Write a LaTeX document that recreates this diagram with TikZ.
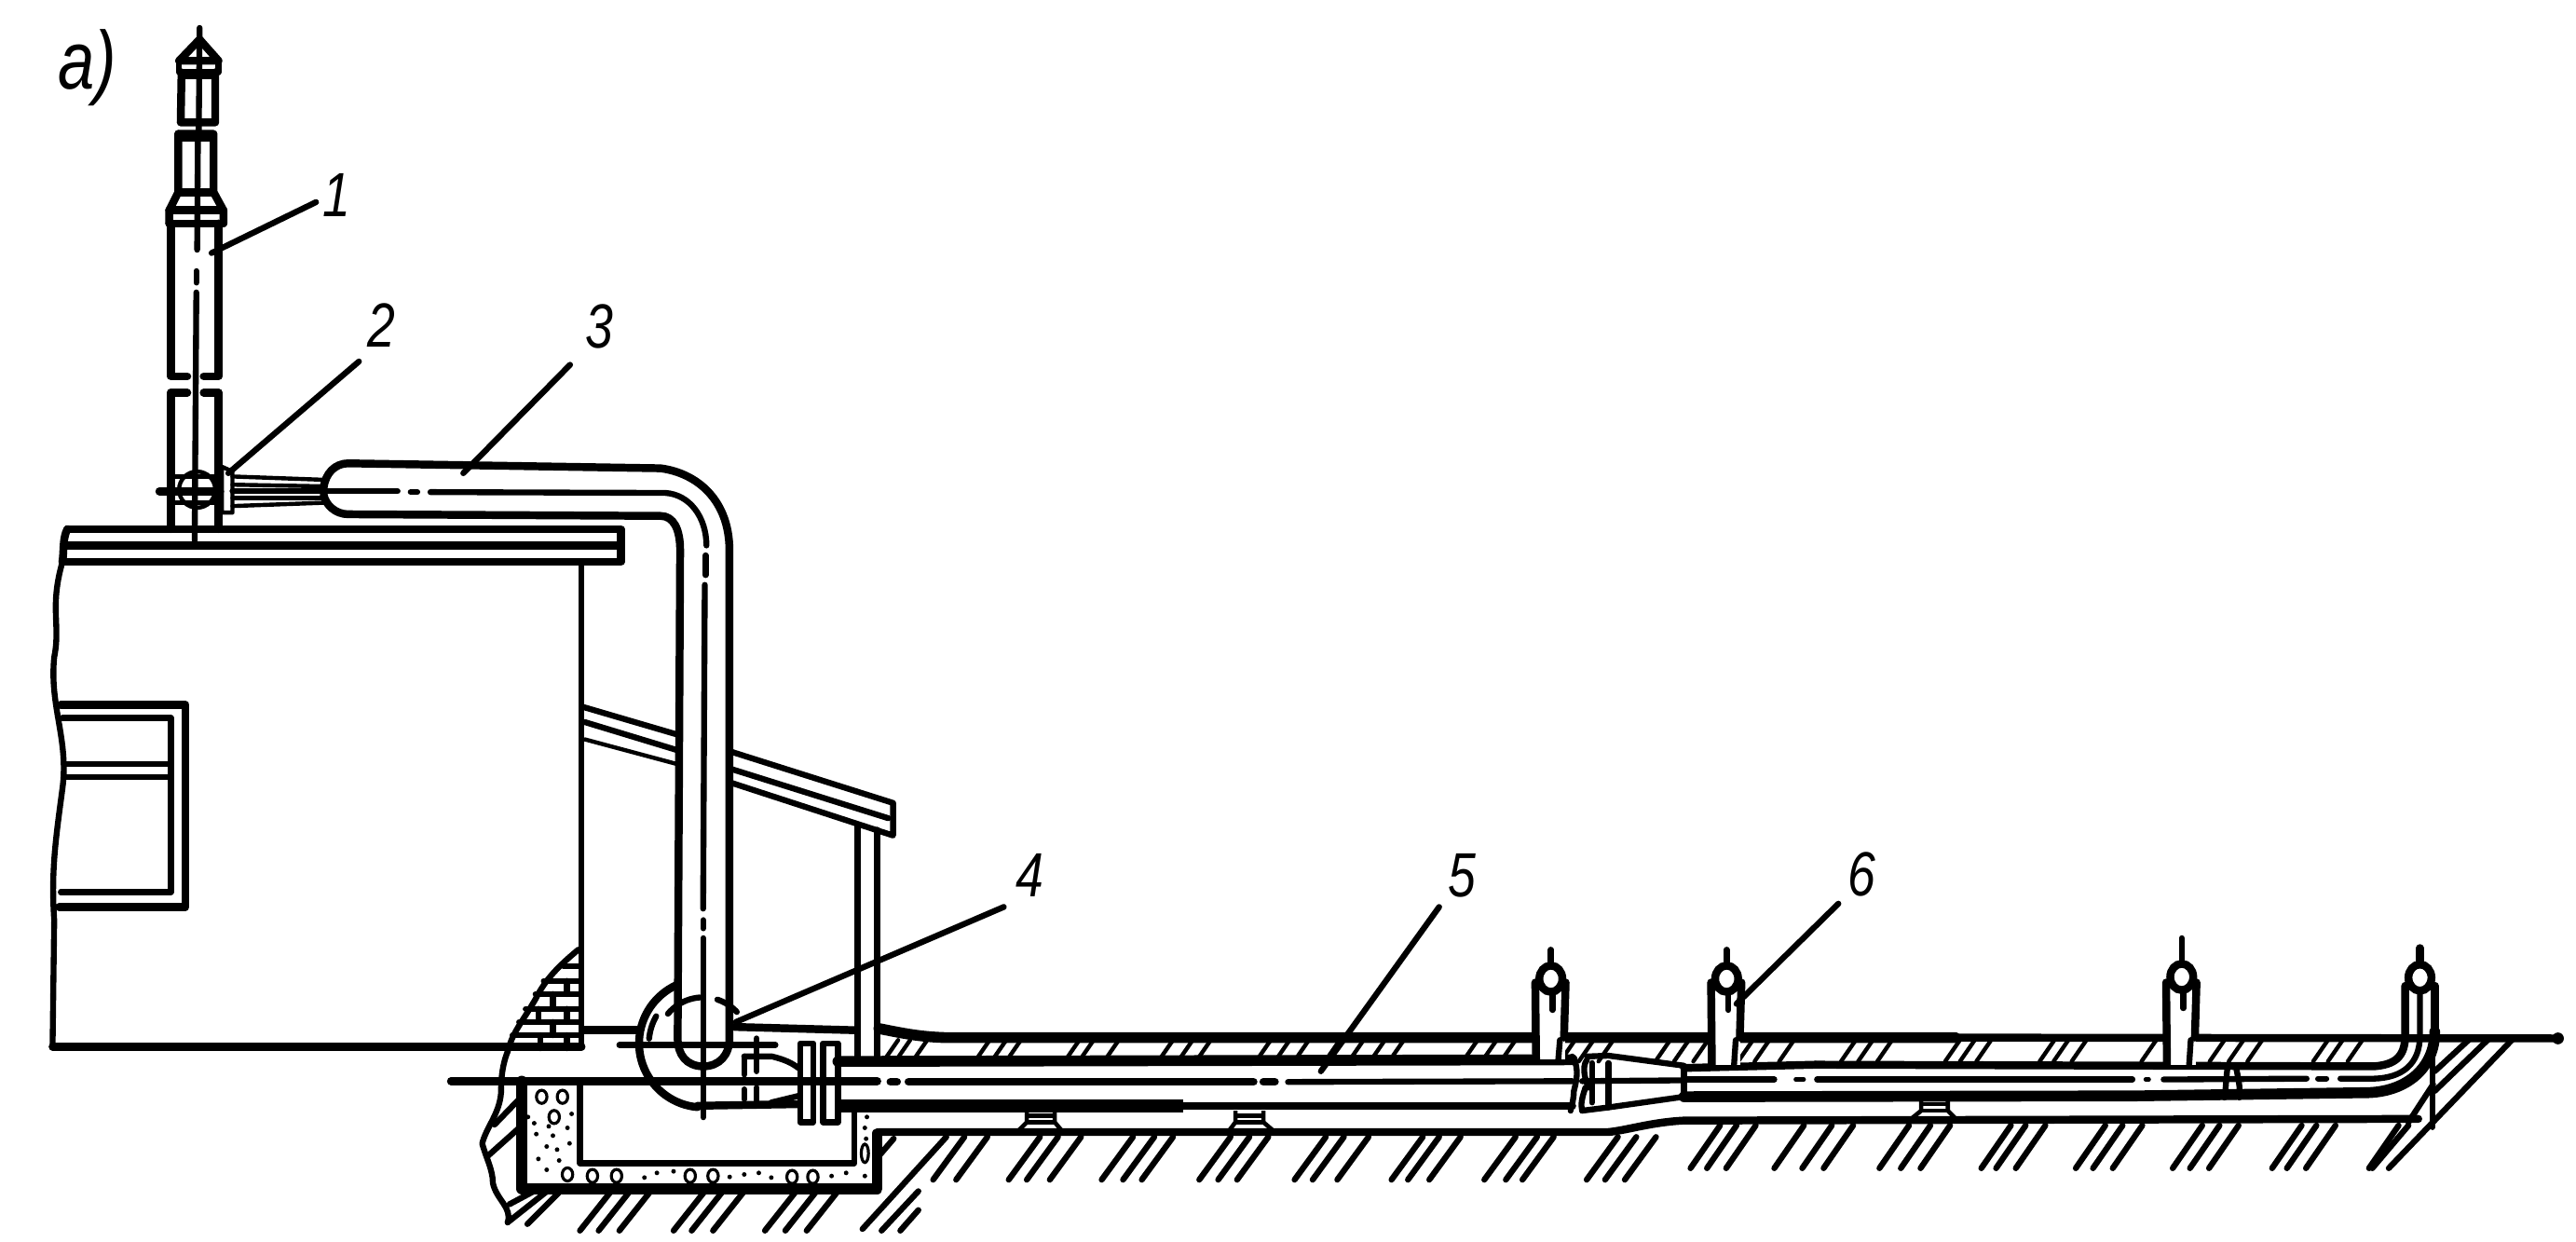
\documentclass[tikz,border=0pt]{standalone}
\usepackage{graphicx}
\usepackage{fontspec}
\setmainfont{Liberation Sans}
\tikzset{
  thn/.style={line width=1.25pt,line cap=round,line join=round},
  med/.style={line width=1.8pt,line cap=round,line join=round},
  thk/.style={line width=2.4pt,line cap=round,line join=round},
  hvy/.style={line width=3.3pt,line cap=round,line join=round},
  num/.style={inner sep=0pt,font=\fontsize{19}{19}\selectfont\itshape},
  saddle/.style={line width=1.3pt,line join=round}
}
\newcommand{\Sdl}[5]{% x1 x2 (neck) xa xb (base) top
  \draw[saddle] (#1,#5) -- (#1,#5+7) -- (#3,#5+13) -- (#4,#5+13) -- (#2,#5+7) -- (#2,#5);
  \draw[saddle] (#1,#5+3) -- (#2,#5+3);
  \draw[saddle] (#1,#5+7) -- (#2,#5+7);
}
\begin{document}
\begin{tikzpicture}[x=0.5pt,y=-0.5pt]
\useasboundingbox (0,0) rectangle (1568,755.9);
\fill[white] (0,0) rectangle (1568,755.9);

% ---------- chimney
\draw[thk] (109,37) -- (121.5,24) -- (133,37) -- cycle;
\draw[med] (109,37) -- (109,44) -- (133,44) -- (133,37);
\draw[thk] (110.5,44) -- (110,74.5) -- (131,74.5) -- (131,44);
\draw[thn] (112,47) -- (130,47);
\draw[thk] (108.5,81.5) -- (130,81.5) -- (130,117) -- (136,128) -- (136,136);
\draw[thk] (108.5,81.5) -- (108.5,117) -- (103,128) -- (103,136);
\draw[thn] (108.5,85) -- (130,85);
\draw[thk] (108.5,117) -- (130,117);
\draw[thk] (103,128) -- (136,128);
\draw[thk] (103,136) -- (136,136);
\draw[thk] (104,136) -- (104,229) -- (114,229);
\draw[thk] (133,136) -- (133,229) -- (124,229);
\draw[thk] (104,239) -- (104,322);
\draw[thk] (133,239) -- (133,322);
\draw[thk] (104,239) -- (114,239);
\draw[thk] (133,239) -- (124,239);
\draw[med] (121.5,17) -- (121,80);
\draw[med] (120.5,80) -- (120,152);
\draw[med] (119.5,165) -- (119.5,172);
\draw[med] (119.5,178) -- (118.5,329);
% flanged joint
\draw[thn] (120,298) circle[radius=5.5pt];
\draw[thn] (104,290) -- (134,290);
\draw[thk] (97,299) -- (134,299);
\draw[thn] (104,306) -- (134,306);
\draw[thn] (135,284) -- (135,312) -- (141.5,312) -- (141.5,287) -- cycle;

% ---------- nozzle + pipe 3 (with bend)
\draw[thn] (141.5,290) -- (197,292);
\draw[thn] (141.5,295) -- (197,296);
\draw[thn] (141.5,303) -- (197,303);
\draw[thn] (141.5,308) -- (197,306);
\draw[thk] (197,297) .. controls (198,288) and (204,282) .. (212,282) -- (402,285)
  .. controls (425,288) and (444,305) .. (444,335) -- (444,632)
  .. controls (444,642) and (438,649) .. (428,649)
  .. controls (418,649) and (412.5,642) .. (412.5,632) -- (414,335)
  .. controls (414,322) and (410,314) .. (402,314) -- (212,313)
  .. controls (204,313) and (198,307) .. (197,301);
% centre of pipe 3
\draw[med] (141.5,299) -- (242,299);
\draw[med] (250,299.5) -- (254,299.5);
\draw[med] (262,299.5) -- (405,300) .. controls (420,301) and (430,315) .. (430,332);
\draw[med] (429.5,338) -- (429.5,350);
\draw[med] (429,356) -- (428,553);
\draw[med] (428,560) -- (428,565);
\draw[med] (428,571) -- (428,680);

% ---------- building
\draw[med] (38,342) .. controls (30,370) and (37,380) .. (33,400) .. controls (30,430) and (42,450) .. (38,480)
  .. controls (34,510) and (31,530) .. (33,560) -- (32,637);
\draw[thk] (41,322) -- (378,322) -- (378,342) -- (38,342);
\draw[thk] (41,322) .. controls (38,328) and (39,335) .. (38,342);
\draw[thk] (40,332) -- (378,332);
\draw[med] (354,342) -- (354,637);
\draw[thk] (37,429) -- (113,429) -- (113,552) -- (36,552);
\draw[med] (38,437) -- (104,437) -- (104,543) -- (37,543);
\draw[med] (39,465) -- (104,465);
\draw[med] (39,473) -- (104,473);
\draw[thk] (32,637) -- (354,637);

% ---------- shed roof
\draw[med] (354,430) -- (412,447);
\draw[med] (356,439.5) -- (412,456.5);
\draw[thn] (356,450) -- (412,465);
\draw[med] (445,457.5) -- (543.6,488.7) -- (543.6,508.5) -- (445,476.4);
\draw[med] (445,468) -- (540.7,498);
\draw[med] (522,502) -- (522,646);
\draw[med] (534,505) -- (534,646);

% ---------- brickwork
\draw[med] (352,578) .. controls (340,588) and (332,596) .. (326,608) .. controls (318,622) and (312,628) .. (309,640);
\foreach \yy/\xa in {588/343,597/331,605/326,614/320,622/316,630/312}
  \draw[med] (\xa,\yy) -- (353,\yy);
\foreach \xx/\yy in {345/597,336.5/605,345/614,327.7/614,336.5/622,329/630,345/630}
  \draw[med] (\xx,\yy) -- (\xx,\yy+8);

% ---------- broken edge and its hatching
\draw[med] (309,640) .. controls (305,650) and (305,660) .. (305,665) .. controls (304,678) and (296,686) .. (293.5,696)
  .. controls (296,705) and (300,712) .. (300,720) .. controls (302,730) and (312,735) .. (309,744);
\draw[med] (316,669) -- (301,684.5);
\draw[med] (316,686.5) -- (297,703.5);
\draw[med] (325,725) -- (310,733);
\draw[med] (333,725) -- (309,744);
\draw[med] (340,726) -- (321,745);

% ---------- floor lines at the elbow
\draw[thk] (355.5,627) -- (388.5,627);
\draw[thk] (447,625) -- (520,627);

% ---------- pit
\draw[hvy] (317.6,658) -- (317.6,723.5) -- (534,723.5) -- (534,690);
\draw[med] (353,658) -- (353,708) -- (520,708) -- (520,674);
\foreach \x/\y in {228/680,278/680,258/745,290/930,350/935,408/935,585/935,640/935,830/938,880/938}
  \draw[line width=.9pt] ({272+\x/3.95},{539+\y/5.29}) circle[x radius=1.6pt,y radius=2pt];
\draw[line width=.9pt] ({272+1005/3.95},{539+862/5.29}) circle[x radius=1.1pt,y radius=2.8pt];
\foreach \x/\y in {195/745,210/765,245/775,215/800,255/805,295/830,240/840,265/850,220/880,270/885,240/915,290/780,300/735,475/940,505/925,545/920,680/938,715/930,750/925,780/940,925/935,960/925,1005/935,1010/745,1005/780,1008/815}
  \fill ({272+\x/3.95},{539+\y/5.29}) circle[radius=0.7pt];

% ---------- ground lines
\draw[hvy] (535,626) .. controls (550,629) and (560,631) .. (575,631.5) -- (1190,631.5);
\draw[thk] (1190,631.5) -- (1555,632);
\fill (1557,632) circle[radius=1.8pt];
\draw[thk] (535,689) -- (979,689) .. controls (990,688) and (1005,683) .. (1025,682) -- (1472,681);

% upper hatching
\foreach \x in {546.7,554,564.4,602.4,612.5,621.4,657,665.7,681,714,726,737,773.5,785,796.7,815.5,830,843,854.5,899.4,911,922.5,958.7,970,982,1016.6,1028,1039.7,1067,1077,1092,1129.6,1140,1151.7,1193,1202,1212,1250.5,1259,1270,1312.5,1354,1365.6,1377,1417,1426,1438}
  \draw[thn] (\x,633) -- ++(-9,13);

% lower hatching
\foreach \x in {587,601,633,644,658,689.6,702.6,714,749,760.5,772,807,818,833,866,876,889,922.5,935.6,945.7,984.8,996,1008}
  \draw[med] (\x,692) -- ++(-19,26);
\foreach \x in {1047,1057,1068.7,1098,1115,1128,1162,1175,1187,1224,1233,1245,1281.5,1292,1304,1340.5,1351,1362.6,1401,1410,1421.6,1460}
  \draw[med] (\x,685) -- ++(-18,26);
\draw[med] (544,693) -- (535,703.5);
\draw[med] (576,692) -- (525,748);
\draw[med] (559,725) -- (536.6,749);
\draw[med] (559,736.5) -- (548,749);
\foreach \x in {372,383.4,396,429,440,453,484.6,497,510}
  \draw[med] (\x,725) -- ++(-19,24);
% right end
\draw[med] (1529.3,632.6) -- (1454,711);
\draw[med] (1514.6,632.6) -- (1482,664);
\draw[med] (1503,632.6) -- (1482,652);
\draw[med] (1480.6,632) -- (1480.6,686);
\draw[med] (1466,683) -- (1481,660);
\draw[med] (1466,685) -- (1444,711);

% ---------- elbow casing and valve
\draw[thk] plot[domain=115:265,samples=40] ({428+39*cos(\x)},{635-39*sin(\x)});
\draw[thk] (424.6,673) -- (487,672);
\draw[med] plot[domain=94:140,samples=12] ({428+28*cos(\x)},{635-28*sin(\x)});
\draw[med] plot[domain=43:72,samples=12] ({428+28*cos(\x)},{635-28*sin(\x)});
\draw[med] plot[domain=150:175,samples=10] ({428+33*cos(\x)},{635-33*sin(\x)});
\draw[med] (377,636) -- (472,636);
\draw[med] (453,643) -- (453,654);
\draw[med] (453,663) -- (453,669);
\draw[med] (460.6,632) -- (460.6,652);
\draw[med] (460.6,662) -- (460.6,671);
\draw[med] (453,643) -- (470,643) .. controls (478,645) and (482,647) .. (486,650);
\draw[med] (469.5,671) -- (486,667);
\draw[med,fill=white] (487,635) rectangle (495,683);
\draw[med,fill=white] (501,635) rectangle (510,683);

% ---------- main pipe 5
\draw[hvy] (510,646) -- (957,645);
\draw[line width=4pt] (510,673) -- (720,673);
\draw[thk] (720,673) -- (957,673);
\draw[med] (957,643) .. controls (962,650) and (959,660) .. (958,664) .. controls (958,668) and (957,672) .. (956,676);
\draw[med] (966,645) .. controls (962,650) and (966,660) .. (967,662);
\draw[med] (965,662) .. controls (963,668) and (962,672) .. (963,676);
\draw[med] (963,676) -- (979,674) -- (1025,667.5);
\draw[med] (966,643) -- (979,642.5) -- (1025,648.6);
\draw[med] (969,647) -- (969,671);
\draw[med] (979,647) -- (979,674);
\draw[med] (1025,649) -- (1025,667.5);

% pipe 5 axis
\draw[thk] (274.5,658) -- (534,658);
\draw[thk] (542,658.5) -- (546,658.5);
\draw[thk] (553,658.5) -- (763,658.5);
\draw[thk] (769,658.5) -- (776,658.5);
\draw[med] (784,658.5) -- (957,658);
\draw[med] (963,658) -- (1025,657.5);
\draw[med] (1025,657) -- (1080,657);
\draw[thn] (1093,657) -- (1098,657);
\draw[med] (1106,657) -- (1298,657);
\draw[thn] (1306,657) -- (1308,657);
\draw[med] (1317,657) -- (1404,656.5);
\draw[med] (1411,656.5) -- (1416,656.5);
\draw[med] (1424.6,656.5) -- (1445,656.5) .. controls (1462,656) and (1473,648) .. (1473,630) -- (1473,603);

% small pipe
\draw[thk] (1025,650) -- (1105,648);
\draw[thk] (1105,648) -- (1445,649) .. controls (1457,648) and (1464,644) .. (1464,630) -- (1464,600);
\draw[hvy] (1025,667.5) -- (1300,667) -- (1442,665) .. controls (1465,664) and (1482,650) .. (1482,628);
\draw[thk] (1482,628) -- (1482,600);
% joint
\draw[med] (1356,649) .. controls (1355,655) and (1355,662) .. (1354,668);
\draw[med] (1361,649) .. controls (1362,655) and (1364,662) .. (1363,668);

% ---------- saddles
\Sdl{625}{642}{619}{647}{676}
\Sdl{752}{769}{747.5}{776}{676}
\Sdl{1169.4}{1185.6}{1162}{1191.5}{669}

% ---------- risers
\foreach \c/\t/\b/\yh in {944/578/645/595.7,1051/578/648/595.7,1328/571/648/594.6}{
  \fill[white] (\c-9,606) rectangle (\c+8.5,\b);
  \draw[thk] (\c-9.5,598) -- (\c-9,\b);
  \draw[thk] (\c+9,598) -- (\c+8,631.5);
  \draw[med] (\c+5.5,633) -- (\c+4.5,\b);
  \draw[line width=2.4pt,fill=white] (\c,\yh) circle[x radius=3.5pt,y radius=4pt];
  \draw[med] (\c,\t) -- (\c,\yh-9);
  \draw[med] (\c+1,\yh+9) -- (\c+1,\yh+19);
}
\draw[line width=2.4pt,fill=white] (1473,595) circle[x radius=3.5pt,y radius=4pt];
\draw[thk] (1473,577) -- (1473,586);

% ---------- labels and leaders
\node[num] (lab1) at (205,119) {\scalebox{.8}[1]{1}};
\node[num] (lab2) at (232,198) {\scalebox{.8}[1]{2}};
\node[num] (lab3) at (365,199) {\scalebox{.8}[1]{3}};
\node[num] (lab4) at (627,533) {\scalebox{.8}[1]{4}};
\node[num] (lab5) at (890,533) {\scalebox{.8}[1]{5}};
\node[num] (lab6) at (1133,532) {\scalebox{.8}[1]{6}};
\node[inner sep=0pt,font=\fontsize{25}{25}\selectfont\itshape] (laba) at (53,41) {\scalebox{.8}[1]{a)}};
\coordinate (s1) at (192.4,123); \coordinate (e1) at (128.8,154);
\coordinate (s2) at (218.5,220); \coordinate (e2) at (139,288);
\coordinate (s3) at (347,222);   \coordinate (e3) at (282,288);
\coordinate (s4) at (611,552);   \coordinate (e4) at (448,622);
\coordinate (s5) at (876,552);   \coordinate (e5) at (804,652);
\coordinate (s6) at (1119,550);  \coordinate (e6) at (1057,611);
\foreach \i in {1,...,6} \draw[med] (s\i) -- (e\i);
\end{tikzpicture}
\end{document}
